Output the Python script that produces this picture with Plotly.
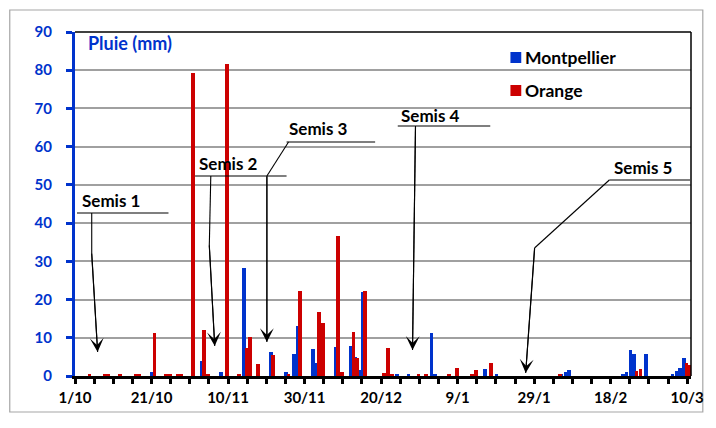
import plotly.graph_objects as go

# ---------------- data (mm of rain per day) ----------------
mtp_dates = ["2012-10-21", "2012-11-03", "2012-11-08", "2012-11-14", "2012-11-15",
             "2012-11-21", "2012-11-25", "2012-11-27", "2012-11-28", "2012-12-02",
             "2012-12-03", "2012-12-08", "2012-12-12", "2012-12-13", "2012-12-14",
             "2012-12-15", "2012-12-24", "2012-12-27", "2013-01-02", "2013-01-03",
             "2013-01-16", "2013-01-19", "2013-02-05", "2013-02-06", "2013-02-07",
             "2013-02-21", "2013-02-22", "2013-02-23", "2013-02-24", "2013-02-27",
             "2013-03-06", "2013-03-07", "2013-03-08", "2013-03-09"]
mtp_mm = [1.0, 3.9, 1.1, 28.2, 1.0,
          6.4, 1.0, 5.8, 13.1, 7.0,
          3.3, 7.5, 7.8, 5.1, 1.5,
          22.1, 0.3, 0.3, 11.3, 0.5,
          1.8, 0.3, 0.5, 1.1, 1.7,
          0.3, 1.1, 6.8, 5.8, 5.7,
          0.4, 1.4, 2.2, 4.6]

ora_dates = ["2012-10-04", "2012-10-08", "2012-10-09", "2012-10-12", "2012-10-16",
             "2012-10-17", "2012-10-21", "2012-10-24", "2012-10-25", "2012-10-27",
             "2012-10-28", "2012-10-31", "2012-11-03", "2012-11-04", "2012-11-09",
             "2012-11-12", "2012-11-14", "2012-11-15", "2012-11-17", "2012-11-21",
             "2012-11-25", "2012-11-28", "2012-12-03", "2012-12-04", "2012-12-08",
             "2012-12-09", "2012-12-12", "2012-12-13", "2012-12-15", "2012-12-20",
             "2012-12-21", "2012-12-22", "2012-12-29", "2012-12-31", "2013-01-06",
             "2013-01-08", "2013-01-12", "2013-01-13", "2013-01-17", "2013-02-04",
             "2013-02-24", "2013-02-25", "2013-03-09", "2013-03-10"]
ora_mm = [0.5, 0.4, 0.3, 0.3, 0.3,
          0.5, 11.3, 0.3, 0.4, 0.5,
          0.4, 79.2, 12.0, 0.5, 81.5,
          0.3, 7.2, 10.1, 3.1, 5.5,
          0.3, 22.3, 16.8, 13.8, 36.5,
          1.0, 11.6, 4.6, 22.3, 0.8,
          7.2, 0.3, 0.4, 0.4, 0.5,
          2.0, 0.5, 1.6, 3.5, 0.3,
          1.4, 1.9, 3.5, 3.0]

tick_dates = ["2012-10-01", "2012-10-21", "2012-11-10", "2012-11-30", "2012-12-20",
              "2013-01-09", "2013-01-29", "2013-02-18", "2013-03-10"]
tick_labels = ["1/10", "21/10", "10/11", "30/11", "20/12", "9/1", "29/1", "18/2", "10/3"]

semis_labels = ["Semis 1", "Semis 2", "Semis 3", "Semis 4", "Semis 5"]

# ---------------- styling ----------------
BLUE = "#0033cc"
RED = "#cc0000"
FONT = "Lato"
DAY = 86400000

# the page has an 8 px body margin: figure spans screen pixels 8..716 / 8..428
W, H = 708, 420
L, T = 67, 24
PW, PH = 626, 344
R, B = W - L - PW, H - T - PH
X0S, Y0S = L + 8, T + 8          # plot-area top-left in screen pixels


def fx(x):
    """screen x pixel -> paper"""
    return (x - X0S) / PW


def fy(y):
    """screen y pixel -> paper"""
    return (Y0S + PH - y) / PH


fig = go.Figure()
fig.add_trace(go.Bar(x=mtp_dates, y=mtp_mm, name="Montpellier", marker_color=BLUE,
                     marker_line_width=0, width=0.95 * DAY, offset=-0.31 * DAY,
                     showlegend=False))
fig.add_trace(go.Bar(x=ora_dates, y=ora_mm, name="Orange", marker_color=RED,
                     marker_line_width=0, width=0.95 * DAY, offset=0.31 * DAY,
                     showlegend=False))

shapes = []
annotations = []

# outer frame
shapes.append(dict(type="rect", xref="paper", yref="paper", x0=fx(8.7), x1=fx(713),
                   y0=fy(412), y1=fy(10), line=dict(color="#a6a6a6", width=1.2),
                   layer="below"))
# top and right plot borders
shapes.append(dict(type="line", xref="paper", yref="paper", x0=0, x1=1, y0=1, y1=1,
                   line=dict(color="black", width=1.5)))
shapes.append(dict(type="line", xref="paper", yref="paper", x0=1, x1=1, y0=0, y1=1,
                   line=dict(color="black", width=1.5)))

# y-axis title
annotations.append(dict(text="<b>Pluie (mm)</b>", xref="paper", yref="paper",
                        x=fx(86), y=fy(43), xanchor="left", yanchor="middle",
                        showarrow=False, font=dict(family=FONT, size=18, color=BLUE)))

# manual legend
for (name, col, cy) in [("Montpellier", BLUE, 57.5), ("Orange", RED, 90.5)]:
    shapes.append(dict(type="rect", xref="paper", yref="paper", x0=fx(517.5),
                       x1=fx(528.5), y0=fy(cy + 5.5), y1=fy(cy - 5.5),
                       fillcolor=col, line=dict(width=0)))
    annotations.append(dict(text="<b>%s</b>" % name, xref="paper", yref="paper",
                            x=fx(530), y=fy(cy), xanchor="left", yanchor="middle",
                            showarrow=False,
                            font=dict(family=FONT, size=17.5, color="black")))

# sowing annotations: label pos, underline, polyline before arrow, arrow (tail -> tip)
semis_geom = [
    dict(lab=(80, 200), ul=(77, 170, 213), seg=[(92, 213), (92, 253)], arr=((92, 253), (98, 352))),
    dict(lab=(199, 163), ul=(197, 290, 176), seg=[(213, 176), (211.5, 245)], arr=((211.5, 245), (217, 346))),
    dict(lab=(290, 129), ul=(290, 380, 142), seg=[(292, 142), (270, 176)], arr=((270, 176), (270, 342))),
    dict(lab=(404, 115), ul=(403, 497, 126), seg=[], arr=((421, 126), (418, 350))),
    dict(lab=(621, 167), ul=(618, 700, 180), seg=[(618, 180), (542, 248)], arr=((542, 248), (533, 373))),
]
for lab, g in zip(semis_labels, semis_geom):
    annotations.append(dict(text="<b>%s</b>" % lab, xref="paper", yref="paper",
                            x=fx(g["lab"][0]), y=fy(g["lab"][1]), xanchor="left",
                            yanchor="middle", showarrow=False,
                            font=dict(family=FONT, size=17, color="black")))
    x0, x1, yy = g["ul"]
    shapes.append(dict(type="line", xref="paper", yref="paper", x0=fx(x0), x1=fx(x1),
                       y0=fy(yy), y1=fy(yy), line=dict(color="black", width=1.1)))
    if g["seg"]:
        (a, b), (c, d) = g["seg"]
        shapes.append(dict(type="line", xref="paper", yref="paper", x0=fx(a), x1=fx(c),
                           y0=fy(b), y1=fy(d), line=dict(color="black", width=1.1)))
    (tx, ty), (hx, hy) = g["arr"]
    # straight part of the arrow drawn as a shape so it joins the polyline
    shapes.append(dict(type="line", xref="paper", yref="paper", x0=fx(tx), x1=fx(hx),
                       y0=fy(ty), y1=fy(hy), line=dict(color="black", width=1.1)))
    annotations.append(dict(text="", xref="paper", yref="paper", x=fx(hx), y=fy(hy),
                            ax=tx - hx, ay=ty - hy, axref="pixel", ayref="pixel",
                            showarrow=True, arrowhead=3, arrowsize=2.1, arrowwidth=1.1,
                            arrowcolor="black", standoff=0, startstandoff=0,
                            borderpad=0, font=dict(size=1)))

fig.update_layout(
    width=W, height=H,
    margin=dict(l=L, r=R, t=T, b=B, pad=0),
    paper_bgcolor="white", plot_bgcolor="white",
    barmode="overlay", bargap=0,
    showlegend=False,
    shapes=shapes, annotations=annotations,
    font=dict(family=FONT),
    xaxis=dict(
        type="date", range=["2012-10-01", "2013-03-11"],
        tickmode="array", tickvals=tick_dates, ticktext=tick_labels,
        ticks="outside", ticklen=5, tickwidth=3, tickcolor="black",
        ticklabelstandoff=1,
        minor=dict(ticks="outside", ticklen=5, tickwidth=3, tickcolor="black",
                   tick0="2012-10-01", dtick=5 * DAY, showgrid=False),
        showline=True, linecolor="black", linewidth=3,
        showgrid=False, zeroline=False,
        tickfont=dict(family=FONT, size=15, color="black", weight="bold"),
    ),
    yaxis=dict(
        range=[0, 90], tick0=0, dtick=10,
        ticks="outside", ticklen=6, tickwidth=3, tickcolor=BLUE,
        ticklabelstandoff=11,
        showline=True, linecolor=BLUE, linewidth=3,
        showgrid=True, gridcolor="#a0a0a0", gridwidth=1.5,
        zeroline=False,
        tickfont=dict(family=FONT, size=15, color=BLUE, weight="bold"),
    ),
)

fig.write_html("out.html")
